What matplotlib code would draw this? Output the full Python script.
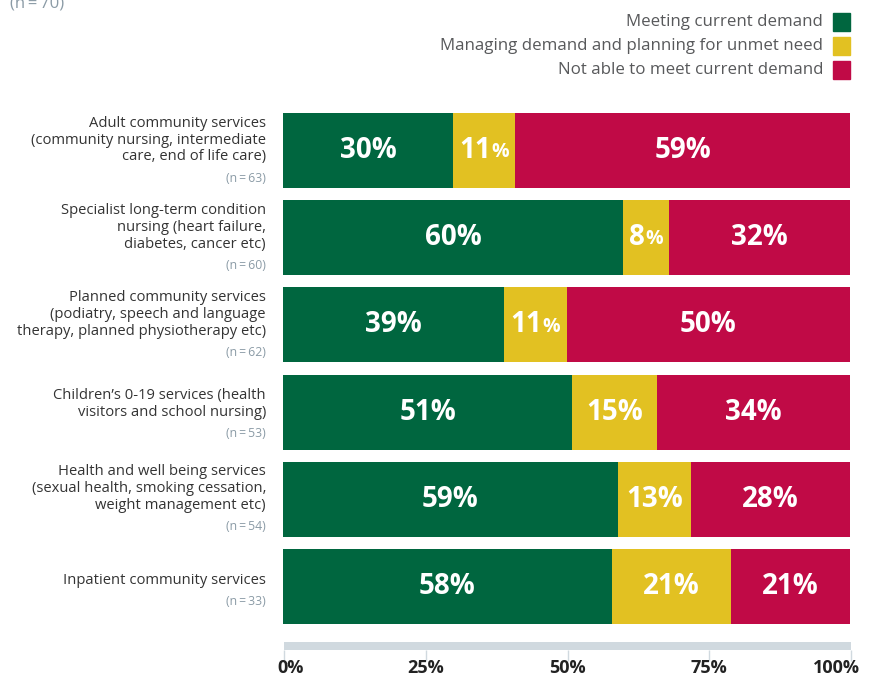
import matplotlib.pyplot as plt
from matplotlib.transforms import ScaledTranslation
import numpy as np

plt.rcParams['font.family'] = ['Open Sans', 'DejaVu Sans']

categories = [
    "Adult community services\n(community nursing, intermediate\ncare, end of life care)",
    "Specialist long-term condition\nnursing (heart failure,\ndiabetes, cancer etc)",
    "Planned community services\n(podiatry, speech and language\ntherapy, planned physiotherapy etc)",
    "Children\u2019s 0-19 services (health\nvisitors and school nursing)",
    "Health and well being services\n(sexual health, smoking cessation,\nweight management etc)",
    "Inpatient community services",
]
n_values = [63, 60, 62, 53, 54, 33]
meeting = [30, 60, 39, 51, 59, 58]
managing = [11, 8, 11, 15, 13, 21]
not_able = [59, 32, 50, 34, 28, 21]
series_names = ["Meeting current demand",
                "Managing demand and planning for unmet need",
                "Not able to meet current demand"]
colors = ["#00663f", "#e2c122", "#c00a46"]
xticks = [0, 25, 50, 75, 100]

W, H = 873, 679
fig = plt.figure(figsize=(W / 100, H / 100), dpi=100)

def shift(dx, dy=0):
    # offset in pixels
    return ScaledTranslation(dx / 100, dy / 100, fig.dpi_scale_trans)

# main bars: pixel layout 283..850 wide, bars pitch 87px
ax = fig.add_axes([283 / W, (H - 632) / H, (850 - 283) / W, (632 - 105) / H])
y = np.arange(len(categories))
left = np.zeros(len(categories))
renderer = fig.canvas.get_renderer()
for vals, col in zip([meeting, managing, not_able], colors):
    ax.barh(y, vals, left=left, height=75 / 87, color=col, linewidth=0)
    for yi, l, v in zip(y, left, vals):
        cx = l + v / 2
        if v <= 11:
            # narrow segment: smaller percent sign
            t1 = ax.text(cx, yi, f"{v}", ha='right', va='center', color='white',
                         fontsize=20, fontweight='bold')
            t2 = ax.text(cx, yi + 0.02, "%", ha='left', va='center', color='white',
                         fontsize=14, fontweight='bold')
            w1 = t1.get_window_extent(renderer).width
            w2 = t2.get_window_extent(renderer).width
            off = (w1 - w2) / 2
            t1.set_transform(ax.transData + shift(off))
            t2.set_transform(ax.transData + shift(off))
        else:
            ax.text(cx, yi, f"{v}%", ha='center', va='center',
                    color='white', fontsize=20, fontweight='bold')
    left = left + np.array(vals)

ax.set_xlim(0, 100)
ax.set_ylim(5 + 45.5 / 87, -45.5 / 87)
ax.axis('off')

tr = ax.get_yaxis_transform()
for yi, cat, n in zip(y, categories, n_values):
    nlines = cat.count("\n") + 1
    span = (nlines - 1) * 17 + 21
    first = -span / 2 + (3 - nlines) * 2.5
    mid = first + (nlines - 1) * 17 / 2
    ax.text(-17 / 567, yi + mid / 87, cat, transform=tr, ha='right', va='center',
            fontsize=10.6, color='#333333', linespacing=1.17)
    ax.text(-17 / 567, yi + (first + span) / 87, f"(n\u2009=\u2009{n})", transform=tr,
            ha='right', va='center', fontsize=8.8, color='#8b9ba6')

# grey axis band with ticks
ax2 = fig.add_axes([284 / W, (H - 650) / H, (851 - 284) / W, 8 / H])
ax2.set_facecolor('#d0d9df')
ax2.set_xlim(0, 100)
ax2.set_yticks([])
for s in ax2.spines.values():
    s.set_visible(False)
ax2.set_xticks(xticks)
ax2.set_xticklabels([f"{t}%" for t in xticks], fontsize=13, fontweight='bold',
                    color='#222222')
ax2.tick_params(axis='x', length=8, color='#d0d9df', width=1, pad=-1.5)
labels = ax2.get_xticklabels()
labels[0].set_ha('left')
labels[0].set_transform(labels[0].get_transform() + shift(-7))
labels[-1].set_ha('right')
labels[-1].set_transform(labels[-1].get_transform() + shift(9))

# legend in top right
for i, (name, col) in enumerate(zip(series_names, colors)):
    yy = (H - 22 - 24 * i) / H
    fig.text(823 / W, yy, name, ha='right', va='center', fontsize=12.2, color='#58595b')
    fig.patches.append(plt.Rectangle((833 / W, yy - 8.5 / H), 17 / W, 17 / H,
                                     transform=fig.transFigure, color=col))

fig.text(10 / W, (H - 3) / H, "(n\u2009=\u200970)", ha='left', va='center', fontsize=12,
         color='#8b9ba6')

plt.savefig('out.png', dpi=100)
